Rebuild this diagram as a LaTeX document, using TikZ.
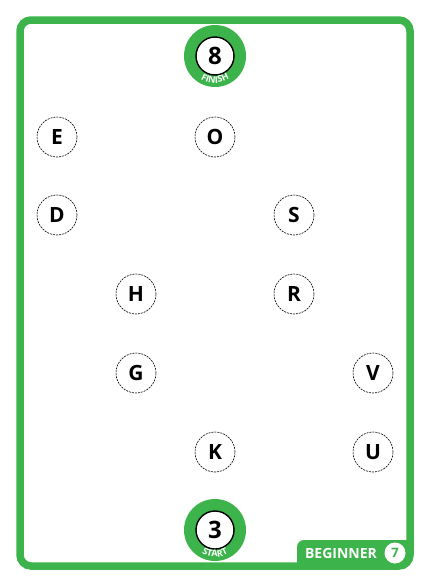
\documentclass[tikz,border=0pt]{standalone}
\usepackage{fontspec}
\setmainfont{Open Sans}
\usetikzlibrary{decorations.text}
\definecolor{cardgreen}{RGB}{60,180,75}
\tikzset{
  letter/.style={circle, draw=black, dash pattern=on 2pt off 1pt, line width=0.6pt,
    minimum size=40pt, inner sep=0pt, fill=white, font=\fontsize{21}{21}\selectfont\bfseries},
  ringdisc/.style={circle, fill=cardgreen, minimum size=62pt, inner sep=0pt},
  centerdisc/.style={circle, draw=black, line width=1.4pt, fill=white, minimum size=38pt,
    inner sep=0pt, font=\fontsize{24}{24}\selectfont\bfseries},
}
\begin{document}
\begin{tikzpicture}[x=1pt,y=-1pt]
\useasboundingbox (0,0) rectangle (430,587);
\fill[white] (0,0) rectangle (430,587);
% badge
\fill[cardgreen] (297,569) -- (297,547) arc[start angle=180,end angle=270,radius=7] -- (410,540) -- (410,558) arc[start angle=0,end angle=90,radius=11] -- cycle;
% frame
\draw[cardgreen, line width=7.5pt, rounded corners=11pt] (20,20) rectangle (410,566);
\node[font=\fontsize{14}{14}\selectfont\bfseries, text=white] (lvl) at (341,553) {BEGINNER};
\node[circle, fill=white, minimum size=21pt, inner sep=0pt, text=cardgreen,
  font=\fontsize{13}{13}\selectfont\bfseries] (num) at (395,553) {7};
% finish
\node[ringdisc] (finring) at (215,56) {};
\node[centerdisc] (fin) at (215,56) {8};
\path[decorate, decoration={text along path, text align=center,
  text={|\fontsize{9}{9}\selectfont\bfseries\color{white}|FINISH}}]
  (finring.center) ++(130:27) arc[start angle=130, end angle=50, radius=27];
% start
\node[ringdisc] (string) at (215,530) {};
\node[centerdisc] (st) at (215,530) {3};
\path[decorate, decoration={text along path, text align=center,
  text={|\fontsize{9}{9}\selectfont\bfseries\color{white}|START}}]
  (string.center) ++(130:27) arc[start angle=130, end angle=50, radius=27];
% letters
\node[letter] (E) at (57,137) {E};
\node[letter] (O) at (215,137) {O};
\node[letter] (D) at (57,215) {D};
\node[letter] (S) at (294,215) {S};
\node[letter] (H) at (136,294) {H};
\node[letter] (R) at (294,294) {R};
\node[letter] (G) at (136,373) {G};
\node[letter] (V) at (373,373) {V};
\node[letter] (K) at (215,452) {K};
\node[letter] (U) at (373,452) {U};
\end{tikzpicture}
\end{document}
